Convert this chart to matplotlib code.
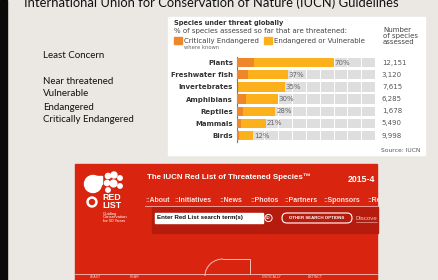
import matplotlib
matplotlib.use("Agg")
import matplotlib.pyplot as plt
from matplotlib.patches import Rectangle, FancyBboxPatch, Circle, Arc

categories = ["Plants", "Freshwater fish", "Invertebrates", "Amphibians",
              "Reptiles", "Mammals", "Birds"]
threatened = [70, 37, 35, 30, 28, 21, 12]
critical = [12.7, 7.9, 0, 6.7, 4.8, 3.1, 1.9]
assessed = ["12,151", "3,120", "7,615", "6,285", "1,678", "5,490", "9,998"]
status_list = ["Least Concern", "", "Near threatened", "Vulnerable",
               "Endangered", "Critically Endangered"]
nav_items = ["::About", "::Initiatives", "::News", "::Photos",
             "::Partners", "::Sponsors", "::Re"]

W, H = 438, 280
fig = plt.figure(figsize=(W / 100, H / 100), dpi=100)
fig.patch.set_facecolor("#ebe8e4")

# overlay in pixel coordinates
bg = fig.add_axes([0, 0, 1, 1])
bg.set_xlim(0, W)
bg.set_ylim(H, 0)
bg.axis("off")

bg.add_patch(Rectangle((0, 0), 7, H, color="#0a0a0a"))
bg.text(24, 7, "International Union for Conservation of Nature (IUCN) Guidelines",
        fontsize=9.4, family="Lato", color="#111111", va="baseline")

ys = [56, 68, 81, 94, 107, 120]
for y, s in zip(ys, status_list):
    if s:
        bg.text(43, y, s, fontsize=7, family="Lato", color="#111111", va="center")

# white chart panel
bg.add_patch(Rectangle((168, 17), 257, 138, color="white"))
bg.text(174, 23, "Species under threat globally", fontsize=4.8, weight="bold",
        color="#333333", va="center")
bg.text(174, 30.5, "% of species assessed so far that are threatened:",
        fontsize=5, color="#444444", va="center")
bg.add_patch(Rectangle((174, 37), 8, 7, color="#f0862a"))
bg.text(184, 40.5, "Critically Endangered", fontsize=5, color="#444444", va="center")
bg.text(184, 47.5, "where known", fontsize=3.8, color="#666666", va="center")
bg.add_patch(Rectangle((264, 37), 8, 7, color="#fbb01c"))
bg.text(274, 40.5, "Endangered or Vulnerable", fontsize=5, color="#444444", va="center")
for i, s in enumerate(["Number", "of species", "assessed"]):
    bg.text(383, 29.5 + i * 6.5, s, fontsize=5, color="#444444", va="center")
bg.text(420, 150, "Source: IUCN", fontsize=4.3, color="#555555", va="center", ha="right")

# bar chart
ax = fig.add_axes([236.7 / W, 1 - 141.7 / H, (375 - 236.7) / W, (141.7 - 56.5) / H])
ax.set_xlim(0, 100)
ax.set_ylim(len(categories) - 0.5, -0.5)
yy = list(range(len(categories)))
ax.barh(yy, [100] * len(yy), height=0.76, color="#dedede", zorder=1)
ax.barh(yy, threatened, height=0.76, color="#fbb01c", zorder=2)
ax.barh(yy, critical, height=0.76, color="#f0862a", zorder=3)
for gx in range(10, 100, 10):
    ax.axvline(gx, color="white", lw=0.7, zorder=1.5)
for y, v in zip(yy, threatened):
    ax.text(v + 0.5, y, f"{v}%", fontsize=5, color="#666666", va="center", zorder=4)
for y, n in zip(yy, assessed):
    ax.text(105, y, n, fontsize=5, color="#555555", va="center", clip_on=False)
ax.set_yticks(yy)
ax.set_yticklabels(categories, fontsize=5, weight="bold", color="#333333")
ax.tick_params(axis="y", length=0, pad=2.5)
ax.set_xticks([])
for sp in ["top", "right", "bottom"]:
    ax.spines[sp].set_visible(False)
ax.spines["left"].set_color("#777777")
ax.spines["left"].set_linewidth(0.8)
ax.set_facecolor("none")

# red list website screenshot
red = "#d9250f"
web = "Liberation Sans"
bg.add_patch(Rectangle((75, 164), 302, 120, color=red))
bg.add_patch(Rectangle((152, 207), 226, 26, color="#b51c0e"))
bg.plot([145, 377], [206, 206], color="#f3b0a8", lw=0.6)
# logo
bg.add_patch(Circle((93, 184), 8.5, color="white"))
bg.add_patch(Rectangle((93, 175.5), 8.5, 8.5, color="white"))
for cx, cy, r in [(108, 176, 2.6), (114, 175, 3.0), (120, 178, 2.2),
                  (107, 183, 2.6), (113.5, 183.5, 3.4), (120, 186, 2.2), (108, 190, 2.2)]:
    bg.add_patch(Circle((cx, cy), r, color="white"))
bg.add_patch(Circle((92, 202), 5, color="white"))
bg.add_patch(Circle((92, 202), 2.5, color=red))
bg.text(102, 197.5, "RED", fontsize=6.3, weight="bold", family=web, color="white", va="center")
bg.text(102, 205, "LIST", fontsize=6.3, weight="bold", family=web, color="white", va="center")
for i, s in enumerate(["Guiding", "Conservation", "for 50 Years"]):
    bg.text(103, 213.5 + i * 3.8, s, fontsize=3.1, family=web, color="white", va="center")
bg.text(147, 177, "The IUCN Red List of Threatened Species\u2122", fontsize=5.7,
        weight="bold", family=web, color="white", va="center")
bg.text(348, 179, "2015-4", fontsize=6.3, weight="bold", family=web, color="white", va="center")
nx = [145, 174, 219, 250, 284, 323, 367]
for x, s in zip(nx, nav_items):
    bg.text(x, 201, s, fontsize=5, weight="bold", family=web, color="#fbe0dc", va="center")
bg.add_patch(Rectangle((155, 213), 108, 10, color="white"))
bg.text(157, 218, "Enter Red List search term(s)", fontsize=4.4, weight="bold",
        family=web, color="#111111", va="center")
bg.add_patch(Circle((268.5, 218), 3.6, fill=False, ec="white", lw=0.7))
bg.text(268.5, 218, "GO", fontsize=2.2, weight="bold", family=web, color="white",
        va="center", ha="center")
bg.add_patch(FancyBboxPatch((282, 213), 70, 10, boxstyle="round,pad=0,rounding_size=5",
                            fill=False, ec="white", lw=0.8))
bg.text(317, 218, "OTHER SEARCH OPTIONS", fontsize=3.2, weight="bold", family=web,
        color="white", va="center", ha="center")
bg.text(356, 218, "Discove", fontsize=4.4, family=web, color="#f2c4be", va="center")
bg.plot([356, 377], [221.5, 221.5], color="#f2c4be", lw=0.4)
# bottom outline and status bar
bg.add_patch(Arc((223, 276), 36, 34, theta1=180, theta2=270, color="#f4c0b8", lw=0.7))
bg.plot([223, 250, 250], [259, 259, 274], color="#f4c0b8", lw=0.7)
bg.plot([75, 377], [274, 274], color="#f4c0b8", lw=0.6)
for x, s in [(90, "LEAST"), (130, "NEAR"), (262, "CRITICALLY"), (308, "EXTINCT")]:
    bg.text(x, 277.5, s, fontsize=2.5, family=web, color="#f6d6d0", va="center")

fig.savefig("out.png", dpi=100, facecolor=fig.get_facecolor())
